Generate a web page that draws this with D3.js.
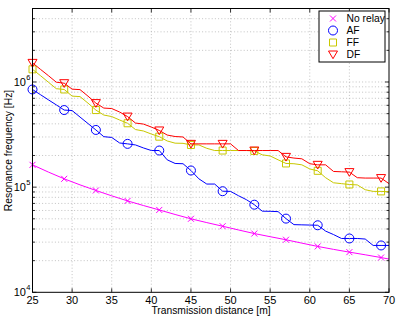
<!DOCTYPE html>
<html><head><meta charset="utf-8">
<script src="https://cdn.jsdelivr.net/npm/d3@7"></script>
<style>
body{margin:0;background:#fff}
svg{display:block}
text{font-family:"Liberation Sans",Arial,Helvetica,sans-serif;fill:#000}
</style></head><body>
<svg id="chart" width="399" height="319"></svg>
<script>
// ---- data ----
const distances = [25,26,27,28,29,30,31,32,33,34,35,36,37,38,39,40,41,42,43,44,45,46,47,48,49,50,51,52,53,54,55,56,57,58,59,60,61,62,63,64,65,66,67,68,69,70];
const markerDistances = [25,29,33,37,41,45,49,53,57,61,65,69];
const noRelayDistances = [25,29,33,37,41,45,49,53,57,61,65,69,70];
const noRelay = [1.63e5,1.20e5,9.3e4,7.4e4,6.07e4,5.0e4,4.25e4,3.62e4,3.16e4,2.73e4,2.41e4,2.14e4,2.07e4];
const af = [8.49e5,7.58e5,6.77e5,6.06e5,5.41e5,5.35e5,4.64e5,4.03e5,3.50e5,3.02e5,2.97e5,2.63e5,2.58e5,2.52e5,2.36e5,2.23e5,2.23e5,1.82e5,1.68e5,1.67e5,1.44e5,1.20e5,1.07e5,1.07e5,9.15e4,9.11e4,8.29e4,7.60e4,6.81e4,5.91e4,5.89e4,5.85e4,5.02e4,4.40e4,4.38e4,4.36e4,4.34e4,3.82e4,3.54e4,3.25e4,3.25e4,3.25e4,3.21e4,2.79e4,2.79e4,2.79e4];
const ff = [1.32e6,1.15e6,9.96e5,8.64e5,8.49e5,7.34e5,7.26e5,6.30e5,5.41e5,4.85e5,4.69e5,4.35e5,4.05e5,3.53e5,3.42e5,3.20e5,3.02e5,2.75e5,2.62e5,2.61e5,2.52e5,2.52e5,2.34e5,2.23e5,2.23e5,2.23e5,2.23e5,2.23e5,2.21e5,2.03e5,1.98e5,1.82e5,1.68e5,1.67e5,1.63e5,1.49e5,1.43e5,1.23e5,1.10e5,1.08e5,1.06e5,1.05e5,9.45e4,9.11e4,9.11e4,9.04e4];
const df = [1.52e6,1.32e6,1.15e6,9.96e5,9.74e5,8.55e5,8.46e5,7.34e5,6.30e5,5.65e5,5.59e5,5.18e5,4.69e5,4.07e5,3.98e5,3.73e5,3.46e5,3.13e5,3.03e5,3.00e5,2.58e5,2.58e5,2.58e5,2.58e5,2.58e5,2.58e5,2.23e5,2.23e5,2.23e5,2.23e5,2.23e5,2.23e5,1.94e5,1.89e5,1.86e5,1.67e5,1.63e5,1.63e5,1.41e5,1.40e5,1.39e5,1.23e5,1.22e5,1.22e5,1.22e5,1.08e5];
const seriesNames = ["No relay","AF","FF","DF"];
const seriesColors = ["#ff00ff","#0000ff","#c8c800","#ff0000"];
const xTicks = [25,30,35,40,45,50,55,60,65,70];
const yTicks = [1e4,1e5,1e6];
const yTickExponents = ["4","5","6"];
const xLabel = "Transmission distance [m]";
const yLabel = "Resonance frequency [Hz]";

// ---- layout ----
const L = 32.5, R = 389, T = 8.5, B = 292.3;
const svg = d3.select("#chart");
const x = d3.scaleLinear().domain([25,70]).range([L,R]);
const y = d3.scaleLog().domain([1e4,5e6]).range([B,T]);

// minor values
const minorVals = [];
for (let k = 4; k <= 6; k++) for (let m = 1; m <= 9; m++) { const v = m*Math.pow(10,k); if (v <= 5e6) minorVals.push(v); }

// grid
const grid = svg.append("g").attr("stroke","#b4b4b4").attr("stroke-width",0.8).attr("stroke-dasharray","1,2.2");
grid.selectAll("line.gx").data(xTicks.slice(1,-1)).join("line")
  .attr("x1",d=>x(d)).attr("x2",d=>x(d)).attr("y1",T).attr("y2",B);
grid.selectAll("line.gy").data(minorVals.filter(v=>v>1e4 && v<5e6)).join("line")
  .attr("x1",L).attr("x2",R).attr("y1",d=>y(d)).attr("y2",d=>y(d));

// ticks
const tk = svg.append("g").attr("stroke","#000").attr("stroke-width",0.8);
xTicks.forEach(t=>{
  tk.append("line").attr("x1",x(t)).attr("x2",x(t)).attr("y1",B).attr("y2",B-4);
  tk.append("line").attr("x1",x(t)).attr("x2",x(t)).attr("y1",T).attr("y2",T+4);
});
minorVals.forEach(v=>{
  const len = yTicks.includes(v) ? 4 : 2.5;
  tk.append("line").attr("x1",L).attr("x2",L+len).attr("y1",y(v)).attr("y2",y(v));
  tk.append("line").attr("x1",R).attr("x2",R-len).attr("y1",y(v)).attr("y2",y(v));
});

// series
const lineGen = d3.line().x(d=>x(d[0])).y(d=>y(d[1]));
const series = [
  {name:seriesNames[0], color:seriesColors[0], xs:noRelayDistances, ys:noRelay, curve:d3.curveMonotoneX, sym:"x"},
  {name:seriesNames[1], color:seriesColors[1], xs:distances, ys:af, curve:d3.curveLinear, sym:"o"},
  {name:seriesNames[2], color:seriesColors[2], xs:distances, ys:ff, curve:d3.curveLinear, sym:"s"},
  {name:seriesNames[3], color:seriesColors[3], xs:distances, ys:df, curve:d3.curveLinear, sym:"v"}
];
function marker(g, sym, cx, cy, color){
  const s = g.append("path").attr("fill","none").attr("stroke",color).attr("stroke-width",1)
    .attr("transform",`translate(${cx},${cy})`);
  if (sym==="x") s.attr("d","M-3,-3L3,3M-3,3L3,-3");
  else if (sym==="o") s.attr("d","M4.5,0A4.5,4.5 0 1,1 -4.5,0A4.5,4.5 0 1,1 4.5,0Z");
  else if (sym==="s") s.attr("d","M-3.5,-3.5H3.5V3.5H-3.5Z");
  else if (sym==="v") s.attr("d","M-4.5,-3.5L4.5,-3.5L0,4.2Z");
}
const plot = svg.append("g");
series.forEach(s=>{
  const pts = s.xs.map((d,i)=>[d,s.ys[i]]);
  plot.append("path").attr("d",lineGen.curve(s.curve)(pts))
    .attr("fill","none").attr("stroke",s.color).attr("stroke-width",1);
  pts.filter(p=>markerDistances.includes(p[0])).forEach(p=>marker(plot,s.sym,x(p[0]),y(p[1]),s.color));
});

// frame
svg.append("rect").attr("x",L).attr("y",T).attr("width",R-L).attr("height",B-T)
  .attr("fill","none").attr("stroke","#000").attr("stroke-width",1);

// x tick labels
svg.append("g").selectAll("text").data(xTicks).join("text")
  .attr("x",d=>x(d)).attr("y",B+11.5).attr("text-anchor","middle").attr("font-size",11).text(d=>d);
// y tick labels
yTicks.forEach((v,i)=>{
  svg.append("text").attr("x",26).attr("y",y(v)+4).attr("text-anchor","end").attr("font-size",11).text("10");
  svg.append("text").attr("x",26.3).attr("y",y(v)-2).attr("font-size",7.5).text(yTickExponents[i]);
});
// axis labels
svg.append("text").attr("x",211).attr("y",314).attr("text-anchor","middle").attr("font-size",10.3).text(xLabel);
svg.append("text").attr("transform","translate(11.5,150.5) rotate(-90)").attr("text-anchor","middle").attr("font-size",10.3).text(yLabel);

// legend
const lg = svg.append("g");
lg.append("rect").attr("x",319).attr("y",11).attr("width",66).attr("height",51)
  .attr("fill","#fff").attr("stroke","#000").attr("stroke-width",1);
series.forEach((s,i)=>{
  const cy = 18.5 + i*12;
  marker(lg, s.sym, 333, cy, s.color);
  lg.append("text").attr("x",346.5).attr("y",cy+3.7).attr("font-size",10.3).text(s.name);
});
</script>
</body></html>
